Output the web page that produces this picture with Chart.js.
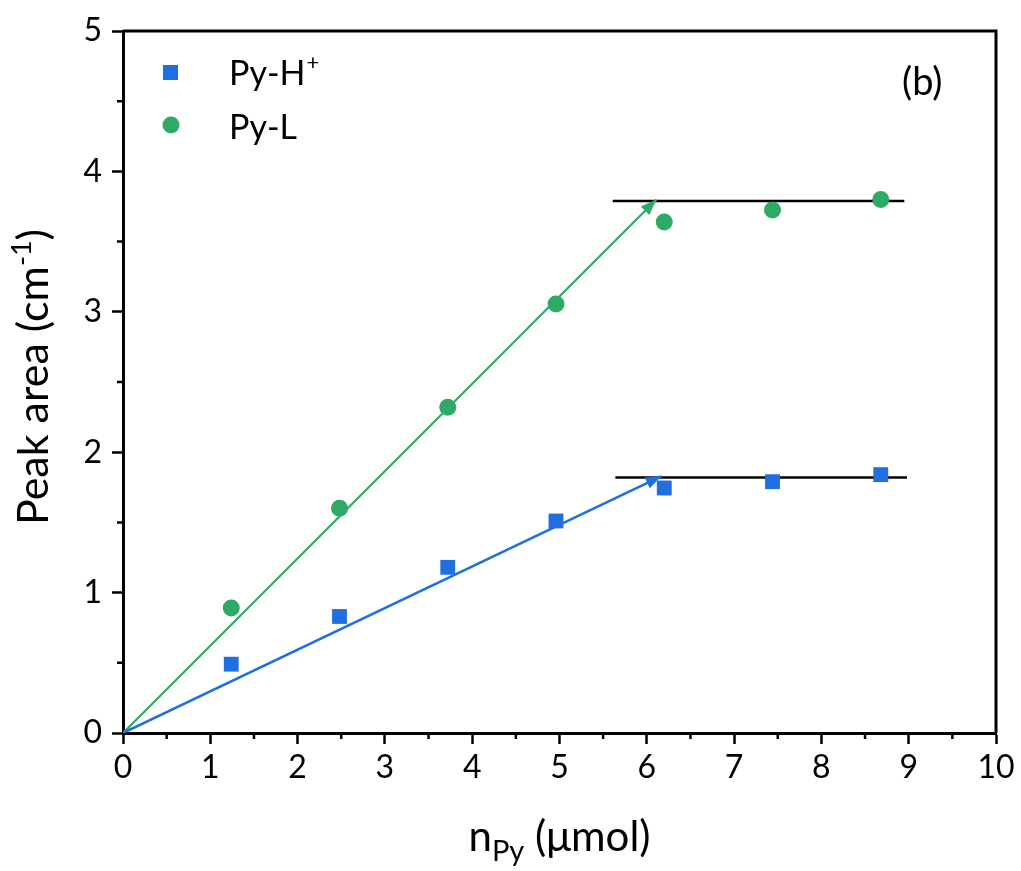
<!DOCTYPE html>
<html>
<head>
<meta charset="utf-8">
<script src="https://cdn.jsdelivr.net/npm/chart.js@4.4.1/dist/chart.umd.min.js"></script>
<style>
  body { margin:0; background:#fff; }
  #wrap { width:1021px; height:871px; }
</style>
</head>
<body>
<div id="wrap"><canvas id="peakChart" width="1021" height="871"></canvas></div>
<script>
/* DATA */
const nPy = [1.24, 2.48, 3.72, 4.96, 6.20, 7.44, 8.68];
const pyH = [0.49, 0.83, 1.18, 1.51, 1.745, 1.79, 1.84];
const pyL = [0.89, 1.60, 2.32, 3.055, 3.64, 3.725, 3.80];

// fitted lines (arrows) and saturation levels
const fitHx = [0, 6.17], fitHy = [0, 1.83];
const fitLx = [0, 6.11], fitLy = [0, 3.80];
const satHx = [5.64, 8.98], satHy = [1.82, 1.82];
const satLx = [5.61, 8.95], satLy = [3.79, 3.79];

const xTicks = [0,1,2,3,4,5,6,7,8,9,10];
const yTicks = [0,1,2,3,4,5];

const BLUE = "#1f6fe2";
const GREEN = "#2ea966";
const FONT = "Lato, 'Open Sans', sans-serif";

const pts = (xs, ys) => xs.map((x,i) => ({x, y: ys[i]}));

/* PLUGIN: frame, minor ticks, arrowheads, titles, legend */
const decor = {
  id: "decor",
  afterDatasetsDraw(chart) {
    const {ctx, chartArea:a, scales:{x, y}} = chart;
    ctx.save();

    // frame top/right
    ctx.strokeStyle = "#000";
    ctx.lineWidth = 3;
    ctx.beginPath();
    ctx.moveTo(a.left, a.top); ctx.lineTo(a.right, a.top); ctx.lineTo(a.right, a.bottom);
    ctx.stroke();

    // minor ticks
    ctx.lineWidth = 2.5;
    ctx.beginPath();
    for (let v = 0.5; v < 10; v += 1) {
      const px = x.getPixelForValue(v);
      ctx.moveTo(px, a.bottom); ctx.lineTo(px, a.bottom + 6);
    }
    for (let v = 0.5; v < 5; v += 1) {
      const py = y.getPixelForValue(v);
      ctx.moveTo(a.left, py); ctx.lineTo(a.left - 6, py);
    }
    ctx.stroke();

    // arrowheads at end of fit lines
    [[fitHx, fitHy, BLUE], [fitLx, fitLy, GREEN]].forEach(([xs, ys, col]) => {
      const x0 = x.getPixelForValue(xs[0]), y0 = y.getPixelForValue(ys[0]);
      const x1 = x.getPixelForValue(xs[1]), y1 = y.getPixelForValue(ys[1]);
      const ang = Math.atan2(y1 - y0, x1 - x0);
      const L = 16, W = 6;
      ctx.fillStyle = col;
      ctx.beginPath();
      ctx.moveTo(x1, y1);
      ctx.lineTo(x1 - L*Math.cos(ang) + W*Math.sin(ang), y1 - L*Math.sin(ang) - W*Math.cos(ang));
      ctx.lineTo(x1 - L*Math.cos(ang) - W*Math.sin(ang), y1 - L*Math.sin(ang) + W*Math.cos(ang));
      ctx.closePath();
      ctx.fill();
    });

    ctx.fillStyle = "#000";
    ctx.textBaseline = "alphabetic";
    ctx.textAlign = "left";

    // x title with subscript
    const p1 = "n", sub = "Py", p2 = " (\u03bcmol)";
    ctx.font = `42px ${FONT}`; const w1 = ctx.measureText(p1).width;
    ctx.font = `29px ${FONT}`; const ws = ctx.measureText(sub).width;
    ctx.font = `42px ${FONT}`; const w2 = ctx.measureText(p2).width;
    let sx = (a.left + a.right) / 2 - (w1 + ws + w2) / 2;
    const by = 851;
    ctx.font = `42px ${FONT}`; ctx.fillText(p1, sx, by); sx += w1;
    ctx.font = `29px ${FONT}`; ctx.fillText(sub, sx, by + 10); sx += ws;
    ctx.font = `42px ${FONT}`; ctx.fillText(p2, sx, by);

    // y title
    ctx.save();
    ctx.translate(48, 377);
    ctx.rotate(-Math.PI / 2);
    const t1 = "Peak area (cm", t2 = "-1", t3 = ")";
    ctx.font = `43px ${FONT}`; const a1 = ctx.measureText(t1).width;
    ctx.font = `27px ${FONT}`; const a2 = ctx.measureText(t2).width;
    ctx.font = `43px ${FONT}`; const a3 = ctx.measureText(t3).width;
    let tx = -(a1 + a2 + a3) / 2;
    ctx.fillText(t1, tx, 0); tx += a1;
    ctx.font = `27px ${FONT}`; ctx.fillText(t2, tx, -17); tx += a2;
    ctx.font = `43px ${FONT}`; ctx.fillText(t3, tx, 0);
    ctx.restore();

    // legend
    ctx.fillStyle = BLUE;
    ctx.fillRect(163, 65, 15, 15);
    ctx.fillStyle = GREEN;
    ctx.beginPath(); ctx.arc(171, 125, 8.5, 0, Math.PI * 2); ctx.fill();
    ctx.fillStyle = "#000";
    ctx.font = `34px ${FONT}`;
    ctx.fillText("Py-H", 229, 85);
    const wh = ctx.measureText("Py-H").width;
    ctx.font = `22px ${FONT}`;
    ctx.fillText("+", 229 + wh + 1, 70);
    ctx.font = `34px ${FONT}`;
    ctx.fillText("Py-L", 229, 139);

    // panel label
    ctx.font = `38px ${FONT}`;
    ctx.fillText("(b)", 902, 95);

    ctx.restore();
  }
};

const tickFont = { family: FONT, size: 32 };

new Chart(document.getElementById("peakChart"), {
  type: "scatter",
  data: {
    datasets: [
      { label: "Py-H+", data: pts(nPy, pyH), pointStyle: "rect", pointRadius: 10.5,
        backgroundColor: BLUE, borderColor: BLUE, borderWidth: 0, order: 1 },
      { label: "Py-L", data: pts(nPy, pyL), pointStyle: "circle", pointRadius: 8.5,
        backgroundColor: GREEN, borderColor: GREEN, borderWidth: 0, order: 1 },
      { type: "line", data: pts(fitHx, fitHy), borderColor: BLUE, borderWidth: 2.5,
        pointRadius: 0, order: 2 },
      { type: "line", data: pts(fitLx, fitLy), borderColor: GREEN, borderWidth: 2.2,
        pointRadius: 0, order: 2 },
      { type: "line", data: pts(satHx, satHy), borderColor: "#000", borderWidth: 2.5,
        pointRadius: 0, order: 2 },
      { type: "line", data: pts(satLx, satLy), borderColor: "#000", borderWidth: 2.5,
        pointRadius: 0, order: 2 }
    ]
  },
  options: {
    responsive: false,
    animation: false,
    layout: { padding: { left: 0, top: 31, right: 25, bottom: 0 } },
    plugins: { legend: { display: false }, tooltip: { enabled: false } },
    scales: {
      x: {
        type: "linear", min: 0, max: 10,
        afterBuildTicks: s => { s.ticks = xTicks.map(v => ({ value: v })); },
        afterFit: s => { s.height = 138; },
        border: { display: true, color: "#000", width: 3 },
        grid: { drawOnChartArea: false, tickLength: 11, tickWidth: 2.5, tickColor: "#000" },
        ticks: { color: "#000", font: tickFont, padding: 4 }
      },
      y: {
        type: "linear", min: 0, max: 5,
        afterBuildTicks: s => { s.ticks = yTicks.map(v => ({ value: v })); },
        afterFit: s => { s.width = 123; },
        border: { display: true, color: "#000", width: 3 },
        grid: { drawOnChartArea: false, tickLength: 11, tickWidth: 2.5, tickColor: "#000" },
        ticks: { color: "#000", font: tickFont, padding: 10 }
      }
    }
  },
  plugins: [decor]
});
</script>
</body>
</html>
